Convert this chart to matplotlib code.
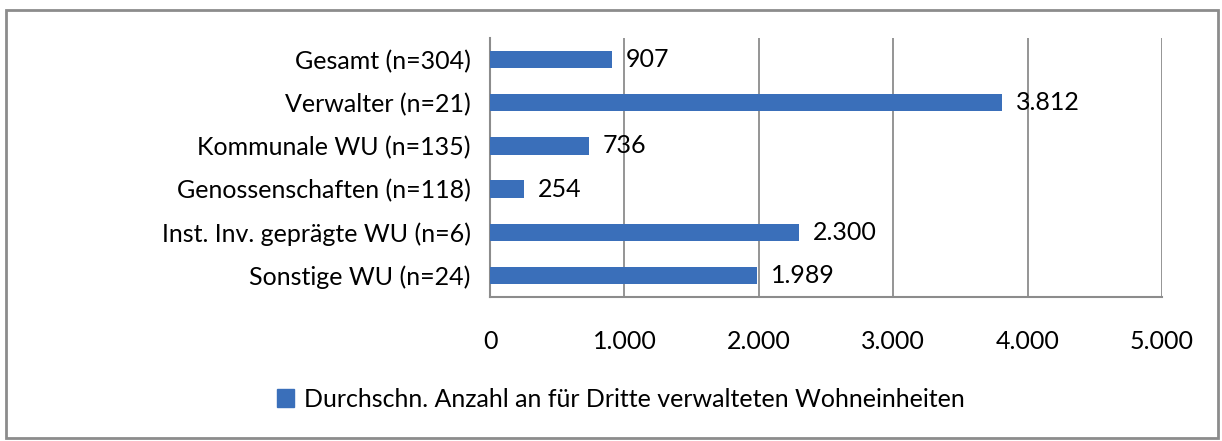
import matplotlib.pyplot as plt
from matplotlib.patches import Rectangle
from matplotlib.ticker import FuncFormatter

categories = ['Gesamt (n=304)', 'Verwalter (n=21)', 'Kommunale WU (n=135)',
              'Genossenschaften (n=118)', 'Inst. Inv. geprägte WU (n=6)',
              'Sonstige WU (n=24)']
values = [907, 3812, 736, 254, 2300, 1989]
value_labels = ['907', '3.812', '736', '254', '2.300', '1.989']
x_ticks = [0, 1000, 2000, 3000, 4000, 5000]
legend_label = 'Durchschn. Anzahl an für Dritte verwalteten Wohneinheiten'

plt.rcParams['font.family'] = ['Lato', 'DejaVu Sans']
bar_color = '#3A6FBA'
grid_color = '#8C8C8C'
fs = 18

fig = plt.figure(figsize=(12.22, 4.41), dpi=100)
ax = fig.add_axes([0.401, 0.3265, 0.5499, 0.5875])

ypos = list(range(len(categories)))
bars = ax.barh(ypos, values, height=0.4, color=bar_color, zorder=3)
ax.set_ylim(len(categories) - 0.5, -0.5)
ax.set_yticks(ypos)
ax.set_yticklabels(categories, fontsize=fs)
ax.set_xlim(0, 5000)
ax.set_xticks(x_ticks)
ax.xaxis.set_major_formatter(FuncFormatter(lambda v, p: f'{int(v):,}'.replace(',', '.')))
ax.tick_params(axis='x', labelsize=fs, length=0, pad=24)
ax.tick_params(axis='y', length=0, pad=14)

ax.grid(axis='x', color=grid_color, linewidth=1.3, zorder=0)
for s in ['top', 'right']:
    ax.spines[s].set_visible(False)
for s in ['left', 'bottom']:
    ax.spines[s].set_color(grid_color)
    ax.spines[s].set_linewidth(1.5)

for b, lab in zip(bars, value_labels):
    ax.annotate(lab, (b.get_width(), b.get_y() + b.get_height() / 2),
                xytext=(14, 0), textcoords='offset pixels',
                va='center', ha='left', fontsize=fs, zorder=4)

leg = fig.legend([Rectangle((0, 0), 1, 1, color=bar_color)], [legend_label],
                 loc='center', bbox_to_anchor=(0.508, 0.095), frameon=False,
                 fontsize=fs, handlelength=0.7, handleheight=0.7, handletextpad=0.4)

fig.add_artist(Rectangle((0.005, 0.007), 0.992, 0.97, transform=fig.transFigure,
                         fill=False, edgecolor=grid_color, linewidth=2))

fig.savefig('out.png', dpi=100)
